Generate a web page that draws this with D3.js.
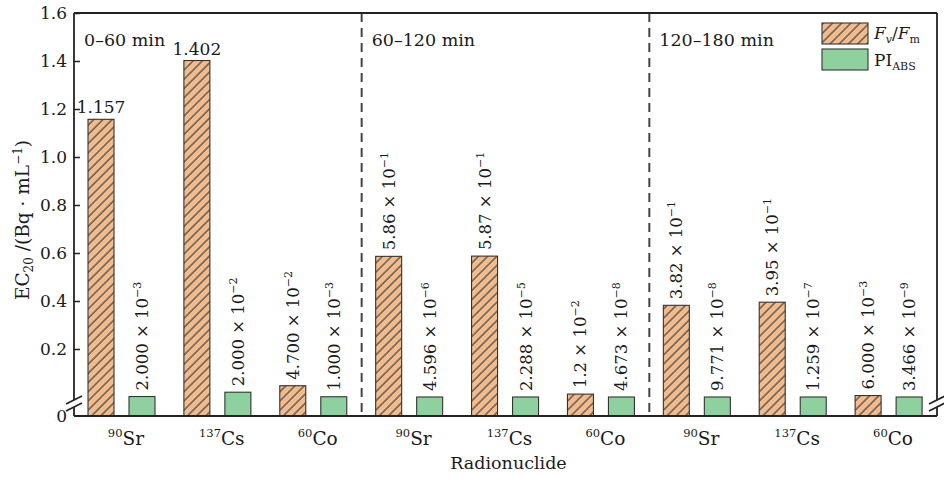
<!DOCTYPE html>
<html>
<head>
<meta charset="utf-8">
<script src="https://cdn.jsdelivr.net/npm/d3@7"></script>
<style>
  body { margin: 0; background: #fff; }
  svg text { font-family: "DejaVu Serif", serif; fill: #1a1a1a; }
</style>
</head>
<body>
<svg id="chart" width="944" height="478"></svg>
<script>
// data
var periods = ["0–60 min", "60–120 min", "120–180 min"];
var nuclides = ["90Sr", "137Cs", "60Co", "90Sr", "137Cs", "60Co", "90Sr", "137Cs", "60Co"];
var fvfm = [1.157, 1.402, 0.047, 0.586, 0.587, 0.012, 0.382, 0.395, 0.006];
var piabs = [0.002, 0.02, 0.001, 4.596e-6, 2.288e-5, 4.673e-8, 9.771e-8, 1.259e-7, 3.466e-9];
var fvfmLabels = ["1.157", "1.402", "4.700 × 10^-2", "5.86 × 10^-1", "5.87 × 10^-1", "1.2 × 10^-2", "3.82 × 10^-1", "3.95 × 10^-1", "6.000 × 10^-3"];
var piabsLabels = ["2.000 × 10^-3", "2.000 × 10^-2", "1.000 × 10^-3", "4.596 × 10^-6", "2.288 × 10^-5", "4.673 × 10^-8", "9.771 × 10^-8", "1.259 × 10^-7", "3.466 × 10^-9"];
var yTicks = [0.2, 0.4, 0.6, 0.8, 1.0, 1.2, 1.4, 1.6];
var series = ["fvfm", "piabs"];

var plotLeft = 74, plotRight = 937, plotTop = 13, floorY = 416;

var svg = d3.select("#chart");

var defs = svg.append("defs");
var hatch = defs.append("pattern")
    .attr("id", "hatch")
    .attr("patternUnits", "userSpaceOnUse")
    .attr("width", 6.5).attr("height", 6.5)
    .attr("patternTransform", "rotate(45)");
hatch.append("rect").attr("width", 6.5).attr("height", 6.5).attr("fill", "#f6bf8f");
hatch.append("line").attr("x1", 1).attr("x2", 1).attr("y1", 0).attr("y2", 6.5)
    .attr("stroke", "#3d3d3d").attr("stroke-width", 1.2);
hatch.append("line").attr("x1", 4.2).attr("x2", 4.2).attr("y1", 0).attr("y2", 6.5)
    .attr("stroke", "#d8ad8c").attr("stroke-width", 0.5);

var colors = { fvfm: "url(#hatch)", piabs: "#8fd09f" };

var x0 = d3.scaleBand().domain(d3.range(nuclides.length)).range([plotLeft, plotRight]);
var x1 = d3.scaleBand().domain(series).range([14, 81]).paddingInner(0.366);
var y = d3.scaleLinear().domain([0, 1.6]).range([397, plotTop]);

// dashed separators between time windows
[3, 6].forEach(function (i) {
  svg.append("line")
    .attr("x1", x0(i)).attr("x2", x0(i))
    .attr("y1", plotTop).attr("y2", floorY)
    .attr("stroke", "#444").attr("stroke-width", 2)
    .attr("stroke-dasharray", "9,6");
});

// bars
var rows = nuclides.map(function (n, i) {
  return { i: i, fvfm: fvfm[i], piabs: piabs[i], fl: fvfmLabels[i], pl: piabsLabels[i] };
});

var grp = svg.selectAll(".grp").data(rows).enter().append("g")
    .attr("class", "grp")
    .attr("transform", function (d) { return "translate(" + x0(d.i) + ",0)"; });

grp.selectAll("rect").data(function (d) {
  return series.map(function (s) { return { s: s, v: d[s] }; });
}).enter().append("rect")
    .attr("x", function (d) { return x1(d.s); })
    .attr("width", x1.bandwidth())
    .attr("y", function (d) { return y(d.v); })
    .attr("height", function (d) { return floorY - y(d.v); })
    .attr("fill", function (d) { return colors[d.s]; })
    .attr("stroke", "#333").attr("stroke-width", 1.1);

// value labels
grp.each(function (d) {
  var g = d3.select(this);
  series.forEach(function (s) {
    var v = d[s], label = s == "fvfm" ? d.fl : d.pl;
    var cx = x1(s) + x1.bandwidth() / 2;
    var parts = label.split("^");
    if (parts.length == 1) {
      g.append("text").attr("x", cx).attr("y", y(v) - 6)
        .attr("text-anchor", "middle").style("font-size", "17px").text(label);
    } else {
      var t = g.append("text")
        .attr("transform", "translate(" + (cx + 6) + "," + (y(v) - 6) + ") rotate(-90)")
        .style("font-size", "16.5px");
      t.append("tspan").text(parts[0]);
      t.append("tspan").attr("dy", -7).style("font-size", "11px").text(parts[1].replace("-", "−"));
    }
  });
});

// y axis (inward ticks)
var yAxis = d3.axisLeft(y).tickValues(yTicks).tickSize(-6).tickPadding(7)
    .tickFormat(d3.format(".1f"));
var ya = svg.append("g").attr("transform", "translate(" + plotLeft + ",0)").call(yAxis);
ya.select(".domain").remove();
ya.selectAll("line").attr("stroke", "#222").attr("stroke-width", 1.5);
ya.selectAll("text").style("font-size", "17px").attr("fill", "#1a1a1a");
svg.append("text").attr("x", plotLeft - 7).attr("y", floorY + 6)
  .attr("text-anchor", "end").style("font-size", "17px").text("0");

// frame with axis breaks
var fr = svg.append("g").attr("stroke", "#222").attr("stroke-width", 1.8).attr("fill", "none");
[plotLeft, plotRight].forEach(function (xx) {
  fr.append("line").attr("x1", xx).attr("x2", xx).attr("y1", plotTop).attr("y2", 400);
  fr.append("line").attr("x1", xx).attr("x2", xx).attr("y1", 407).attr("y2", floorY);
  [400, 407].forEach(function (yy) {
    fr.append("line").attr("x1", xx - 8).attr("y1", yy + 4).attr("x2", xx + 8).attr("y2", yy - 4);
  });
});
fr.append("line").attr("x1", plotLeft).attr("x2", plotRight).attr("y1", plotTop).attr("y2", plotTop);
fr.append("line").attr("x1", plotLeft).attr("x2", plotRight).attr("y1", floorY).attr("y2", floorY);

// period labels
periods.forEach(function (p, k) {
  svg.append("text").attr("x", x0(k * 3) + 10).attr("y", 46)
    .style("font-size", "17.5px").text(p);
});

// x tick labels with mass-number superscripts
nuclides.forEach(function (n, i) {
  var m = n.match(/^(\d+)(\D+)$/);
  var t = svg.append("text").attr("x", x0(i) + x0.bandwidth() / 2 + 4).attr("y", 445)
    .attr("text-anchor", "middle");
  t.append("tspan").style("font-size", "11.5px").attr("dy", -8).text(m[1]);
  t.append("tspan").style("font-size", "18.5px").attr("dy", 8).text(m[2]);
});

svg.append("text").attr("x", (plotLeft + plotRight) / 2 + 3).attr("y", 469)
  .attr("text-anchor", "middle").style("font-size", "17.5px").text("Radionuclide");

// y title
var yt = svg.append("text")
  .attr("transform", "translate(29," + 220 + ") rotate(-90)")
  .attr("text-anchor", "middle").style("font-size", "18.5px");
yt.append("tspan").text("EC");
yt.append("tspan").attr("dy", 4).style("font-size", "12px").text("20");
yt.append("tspan").attr("dy", -4).text(" /(Bq · mL");
yt.append("tspan").attr("dy", -7).style("font-size", "12px").text("−1");
yt.append("tspan").attr("dy", 7).text(")");

// legend
var lg = svg.append("g").attr("transform", "translate(822,23)");
series.forEach(function (s, k) {
  lg.append("rect").attr("x", 0).attr("y", k * 26).attr("width", 46).attr("height", 21)
    .attr("fill", colors[s]).attr("stroke", "#333").attr("stroke-width", 1.1);
});
var l1 = lg.append("text").attr("x", 52).attr("y", 16).style("font-size", "17px");
l1.append("tspan").style("font-style", "italic").text("F");
l1.append("tspan").attr("dy", 4).style("font-size", "11px").style("font-style", "italic").text("v");
l1.append("tspan").attr("dy", -4).text("/");
l1.append("tspan").style("font-style", "italic").text("F");
l1.append("tspan").attr("dy", 4).style("font-size", "11px").text("m");
var l2 = lg.append("text").attr("x", 52).attr("y", 43).style("font-size", "17px");
l2.append("tspan").text("PI");
l2.append("tspan").attr("dy", 4).style("font-size", "11px").text("ABS");
</script>
</body>
</html>
